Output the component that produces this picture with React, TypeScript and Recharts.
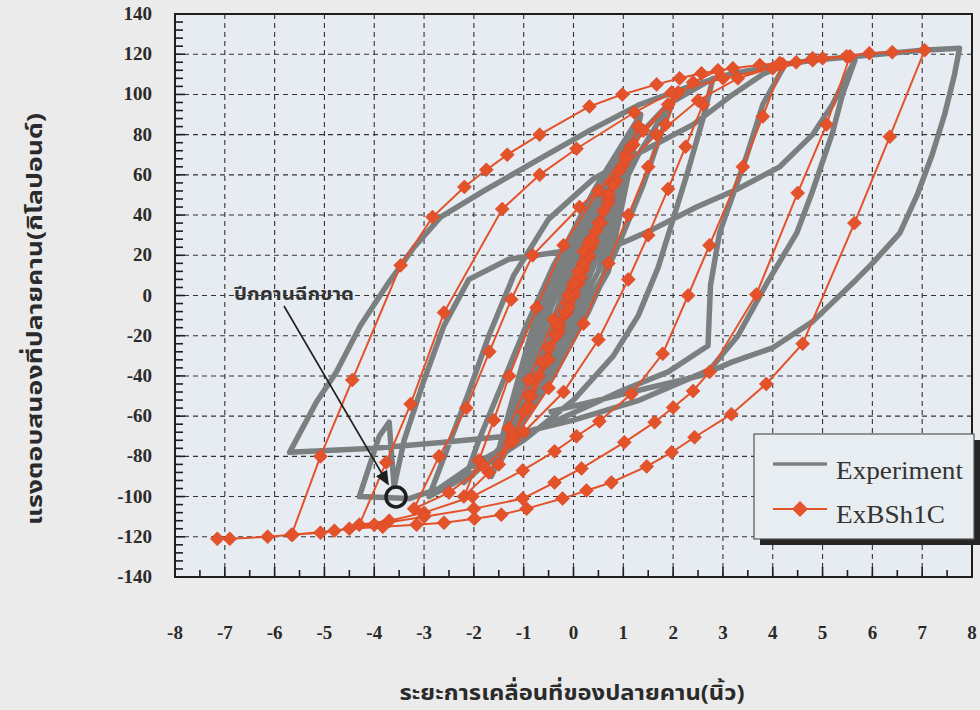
import { LineChart, Line, XAxis, YAxis, CartesianGrid, ReferenceArea } from 'recharts'

// plot box in page pixels
const PLOT = { left: 175, right: 972, top: 14, bottom: 577 }

const xLabels = [-8, -7, -6, -5, -4, -3, -2, -1, 0, 1, 2, 3, 4, 5, 6, 7, 8]
const yLabels = [-140, -120, -100, -80, -60, -40, -20, 0, 20, 40, 60, 80, 100, 120, 140]
const xGrid = [-7, -6, -5, -4, -3, -2, -1, 0, 1, 2, 3, 4, 5, 6, 7]
const yGrid = [-120, -100, -80, -60, -40, -20, 0, 20, 40, 60, 80, 100, 120]
const xMinor = Array.from({ length: 33 }, (_, i) => -8 + i * 0.5)
const yMinor = Array.from({ length: 71 }, (_, i) => -140 + i * 4)

// Experiment (measured) — [displacement in, force kip]
const expCore = [
  [0, 0], [0.2, 18], [0.35, 28], [0.1, 12], [-0.2, -10], [-0.4, -28], [-0.1, -12],
  [0.25, 16], [0.55, 40], [0.2, 22], [-0.3, -10], [-0.65, -42], [-0.2, -20],
  [0.3, 12], [0.75, 52], [0.25, 30], [-0.35, -8], [-0.9, -55], [-0.3, -26],
  [0.4, 14], [0.95, 64], [0.3, 36], [-0.45, -6], [-1.1, -66], [-0.4, -32],
  [0.5, 12], [1.1, 74], [0.35, 42], [-0.5, -2], [-1.3, -76], [-0.5, -38],
  [0.6, 10], [1.25, 84], [0.4, 48], [-0.55, 2], [-1.5, -84], [-0.55, -42],
  [0.7, 12], [1.35, 90], [0.45, 54], [-0.6, 4], [-1.65, -90],
]
const expC6 = [
  [-1.1, -60], [-0.5, -28], [0.2, 10], [0.8, 45], [1.3, 70], [1.7, 86], [2.0, 97],
  [1.75, 80], [1.4, 55], [0.9, 25], [0.3, -8], [-0.4, -40], [-1.1, -65], [-1.7, -82], [-2.2, -93],
]
const expC7 = [
  [-1.9, -72], [-1.5, -48], [-1.0, -18], [-0.4, 15], [0.3, 45], [1.1, 74], [1.9, 95], [2.8, 108],
  [2.6, 88], [2.3, 62], [2.0, 38], [1.7, 14], [1.3, -10], [0.8, -30], [0, -52], [-1.0, -72], [-2.0, -88], [-2.9, -100],
]
const expC8 = [
  [-2.5, -74], [-2.1, -48], [-1.7, -20], [-1.2, 10], [-0.5, 38], [0.4, 58], [1.4, 72], [2.4, 85], [3.2, 100], [3.8, 110], [4.25, 115],
  [3.8, 95], [3.47, 69], [2.93, 31], [2.75, 5], [2.7, -25], [1.9, -38], [1.0, -47], [-0.68, -66], [-2.0, -84], [-2.7, -96], [-3.3, -101], [-4.3, -100],
]
const expC9 = [
  [-4.1, -85], [-3.9, -70], [-3.7, -63], [-3.65, -80], [-3.6, -95], [-3.4, -72], [-3.0, -42], [-2.6, -15], [-2.1, 8], [-1.3, 18],
  [-0.2, 22], [0.78, 24], [1.6, 33], [2.47, 44], [3.3, 53], [4.14, 64], [4.8, 80], [5.2, 95], [5.5, 110], [5.65, 117],
  [5.4, 100], [5.2, 81], [4.8, 52], [4.48, 31], [3.88, 6], [3.3, -20], [2.73, -37], [1.33, -52], [0, -62], [-1.35, -70],
  [-2.6, -73], [-4.0, -76], [-5.7, -78],
]
const expC10 = [
  [-5.16, -53], [-4.76, -38], [-4.28, -15], [-3.75, 5], [-3.2, 24], [-2.67, 39], [-1.8, 52], [-0.68, 68], [0.32, 82],
  [1.33, 95], [2.33, 104], [3.13, 110], [4.0, 114], [4.8, 117], [6.14, 120], [7.0, 122], [7.75, 123],
  [7.65, 110], [7.45, 90], [7.2, 70], [6.9, 50], [6.55, 31], [6.0, 16], [5.68, 8], [4.8, -13], [4.0, -26],
  [3.19, -33], [2.53, -40], [1.5, -46], [0.5, -52], [-0.5, -58],
]

// ExBSh1C (model)
const modelCore = [
  [0, 0], [0.1, 6], [0.2, 13], [0.3, 19], [0.15, 9], [0, 0], [-0.15, -9], [-0.3, -18], [-0.15, -8],
  [0, 2], [0.2, 15], [0.4, 27], [0.55, 36], [0.35, 24], [0.1, 8], [-0.15, -8], [-0.35, -20], [-0.55, -32], [-0.35, -19],
  [-0.1, -4], [0.2, 16], [0.45, 32], [0.7, 48], [0.85, 57], [0.6, 42], [0.3, 24], [0, 5], [-0.3, -16], [-0.6, -34],
  [-0.85, -50], [-0.6, -33], [-0.3, -14], [0, 6], [0.35, 28], [0.7, 50], [1.0, 65], [1.15, 74], [0.85, 57], [0.5, 36],
  [0.1, 12], [-0.3, -14], [-0.7, -40], [-1.0, -58], [-1.2, -70], [-0.9, -50], [-0.5, -26], [-0.1, 0], [0.3, 26],
  [0.7, 50], [1.05, 70], [1.3, 84],
]
const modelC5 = [
  [1.05, 68], [0.7, 46], [0.3, 20], [-0.1, -6], [-0.5, -32], [-0.9, -55], [-1.25, -73], [-1.5, -84],
]
const modelC6 = [
  [-1.3, -66], [-0.9, -42], [-0.4, -12], [0.2, 22], [0.8, 55], [1.4, 82], [2.1, 101],
  [1.85, 85], [1.5, 64], [1.1, 40], [0.7, 16], [0.2, -14], [-0.5, -46], [-1.2, -72], [-1.7, -88], [-2.2, -100],
]
const modelC7 = [
  [-1.9, -82], [-1.6, -62], [-1.29, -40], [-0.74, -6], [-0.2, 25], [0.5, 52], [1.2, 75], [1.9, 95], [2.4, 106], [2.9, 112],
  [2.6, 95], [2.25, 74], [1.9, 53], [1.5, 30], [1.1, 8], [0.5, -22], [-0.2, -48], [-1.0, -68], [-1.8, -85], [-2.5, -98], [-3.2, -106],
]
const modelC8 = [
  [-2.7, -80], [-2.15, -56], [-1.69, -28], [-1.25, -2], [-0.82, 20], [0.12, 44], [0.92, 62], [1.67, 80], [2.5, 97], [3.3, 108], [4.2, 115],
  [3.8, 89], [3.4, 64], [2.73, 25], [2.3, 0], [1.79, -29], [1.16, -49], [0.52, -62.5], [0.06, -70], [-0.38, -77.5],
  [-1.02, -87], [-2.03, -100], [-3.0, -108], [-3.7, -112], [-4.3, -114],
]
const modelC9 = [
  [-3.76, -83], [-3.27, -54], [-2.6, -8.5], [-1.43, 43], [-0.68, 60], [0.06, 73], [1.22, 91], [1.97, 101], [3.0, 108],
  [4.0, 113], [4.8, 117], [5.55, 119],
  [5.08, 85], [4.5, 51], [3.67, 0.5], [2.73, -38], [2.4, -47.5], [2.0, -55.7], [1.63, -63], [1.02, -73], [0.16, -86],
  [-0.38, -93], [-1.02, -101], [-2.0, -106], [-3.0, -110], [-4.0, -114], [-4.8, -117], [-5.66, -119],
]
const modelC10 = [
  [-5.08, -80], [-4.44, -42], [-3.47, 15], [-2.83, 39], [-2.19, 54], [-1.75, 62.5], [-1.33, 70], [-0.68, 80], [0.32, 94],
  [0.98, 100], [1.67, 105], [2.13, 108], [2.57, 110.5], [3.2, 113], [3.74, 114.6], [4.14, 115.6], [4.47, 116], [4.8, 118],
  [5.0, 118], [5.48, 119], [5.94, 120.5], [6.4, 121], [7.05, 122],
  [6.35, 79], [5.64, 36], [4.6, -24], [3.87, -44], [3.17, -59], [2.43, -70.5], [1.97, -78], [1.47, -85], [0.76, -93],
  [0.26, -97], [-0.22, -101], [-0.94, -106], [-1.45, -109], [-1.99, -111], [-2.6, -113], [-3.15, -114], [-3.83, -115],
  [-4.5, -116], [-5.08, -118], [-5.64, -119], [-6.14, -120], [-6.9, -121], [-7.15, -121],
]

const toPoints = (rows: number[][]) => rows.map(([x, y]) => ({ x, y }))
const experiment = toPoints([...expCore, ...expC6, ...expC7, ...expC8, ...expC9, ...expC10])
const model = toPoints([...modelCore, ...modelC5, ...modelC6, ...modelC7, ...modelC8, ...modelC9, ...modelC10])

const GRAY = '#7c7f7f'
const ORANGE = '#e4522a'
const INK = '#1e1e1e'
const serif = '"Liberation Serif", "Times New Roman", serif'
const thai = '"Noto Sans Thai", "Loma", "Garuda", "Tlwg Typo", "Noto Sans", "DejaVu Sans", sans-serif'

const AXIS_W = 60
const AXIS_H = 60

function XTick({ x, payload }: any) {
  const v = payload.value
  const major = xLabels.includes(v)
  return (
    <g>
      <line x1={x} x2={x} y1={PLOT.bottom} y2={PLOT.bottom - (major ? 10 : 7)} stroke={INK} strokeWidth={1.6} />
      {major && (
        <text x={x} y={639} textAnchor="middle" fontFamily={serif} fontWeight="bold" fontSize={19} fill="#2a2a2a">
          {v}
        </text>
      )}
    </g>
  )
}

function YTick({ y, payload }: any) {
  const v = payload.value
  const major = yLabels.includes(v)
  return (
    <g>
      <line x1={PLOT.left} x2={PLOT.left + (major ? 10 : 8)} y1={y} y2={y} stroke={INK} strokeWidth={1.6} />
      {major && (
        <text x={152} y={y + 6} textAnchor="end" fontFamily={serif} fontWeight="bold" fontSize={19} fill="#2a2a2a">
          {v}
        </text>
      )}
    </g>
  )
}

function Diamond(props: any) {
  const { cx, cy, index } = props
  if (cx == null || cy == null) return <g key={`d-${index}`} />
  const r = 7
  return (
    <path
      key={`d-${index}`}
      d={`M${cx},${cy - r}L${cx + r},${cy}L${cx},${cy + r}L${cx - r},${cy}Z`}
      fill={ORANGE}
      stroke="#d8452a"
      strokeWidth={0.6}
    />
  )
}

export default function App() {
  return (
    <div style={{ position: 'absolute', left: 0, top: 0, width: 980, height: 710, background: '#ebebeb' }}>
      <LineChart
        width={980}
        height={710}
        margin={{
          top: PLOT.top,
          right: 980 - PLOT.right,
          bottom: 710 - PLOT.bottom - AXIS_H,
          left: PLOT.left - AXIS_W,
        }}
      >
        <CartesianGrid
          fill="#e7ecf2"
          stroke="#333"
          strokeWidth={1.1}
          strokeDasharray="5 4"
          verticalValues={xGrid}
          horizontalValues={yGrid}
        />
        <XAxis
          type="number"
          dataKey="x"
          domain={[-8, 8]}
          ticks={xMinor}
          interval={0}
          height={AXIS_H}
          tickLine={false}
          axisLine={{ stroke: INK, strokeWidth: 2 }}
          tick={(p: any) => <XTick key={`xt-${p.index}`} {...p} />}
        />
        <YAxis
          type="number"
          dataKey="y"
          domain={[-140, 140]}
          ticks={yMinor}
          interval={0}
          width={AXIS_W}
          tickLine={false}
          axisLine={{ stroke: INK, strokeWidth: 2 }}
          tick={(p: any) => <YTick key={`yt-${p.index}`} {...p} />}
        />
        <Line
          data={experiment}
          dataKey="y"
          type="linear"
          stroke={GRAY}
          strokeWidth={5.5}
          strokeLinejoin="round"
          dot={false}
          isAnimationActive={false}
        />
        <Line
          data={model}
          dataKey="y"
          type="linear"
          stroke={ORANGE}
          strokeWidth={2}
          dot={Diamond}
          activeDot={false}
          isAnimationActive={false}
        />
        <ReferenceArea x1={-8} x2={8} y1={-140} y2={140} fill="none" stroke={INK} strokeWidth={2} />
      </LineChart>

      <svg width={980} height={710} style={{ position: 'absolute', left: 0, top: 0, pointerEvents: 'none' }}>
        <defs>
          <marker id="arrowHead" markerWidth="10" markerHeight="10" refX="8" refY="4" orient="auto">
            <path d="M0,0 L9,4 L0,8 Z" fill={INK} />
          </marker>
        </defs>

        {/* annotation: flange tear */}
        <text x={294} y={300} textAnchor="middle" fontFamily={thai} fontWeight="bold" fontSize={18} fill="#333" textLength={120} lengthAdjust="spacingAndGlyphs">
          ปีกคานฉีกขาด
        </text>
        <line x1={284} y1={306} x2={388} y2={484} stroke={INK} strokeWidth={1.6} markerEnd="url(#arrowHead)" />
        <circle cx={396} cy={497} r={10} fill="none" stroke={INK} strokeWidth={3.5} />

        {/* axis titles */}
        <text x={572} y={700} textAnchor="middle" fontFamily={thai} fontWeight="bold" fontSize={22} fill="#2a2a2a" textLength={345} lengthAdjust="spacingAndGlyphs">
          ระยะการเคลื่อนที่ของปลายคาน(นิ้ว)
        </text>
        <text
          x={0}
          y={0}
          transform="translate(42,319) rotate(-90)"
          textAnchor="middle"
          fontFamily={thai}
          fontWeight="bold"
          fontSize={22}
          fill="#2a2a2a"
          textLength={412}
          lengthAdjust="spacingAndGlyphs"
        >
          แรงตอบสนองที่ปลายคาน(กิโลปอนด์)
        </text>

        {/* legend */}
        <rect x={760} y={440} width={220} height={105} fill="#262626" />
        <rect x={754} y={434} width={220} height={105} fill="#e8edf2" stroke="#555" strokeWidth={1.2} />
        <line x1={773} x2={827} y1={464} y2={464} stroke={GRAY} strokeWidth={3.5} />
        <text x={836} y={479} fontFamily={serif} fontSize={25} fill="#333" textLength={127} lengthAdjust="spacingAndGlyphs">
          Experiment
        </text>
        <line x1={773} x2={827} y1={509} y2={509} stroke={ORANGE} strokeWidth={2} />
        <path d="M800,501 L808,509 L800,517 L792,509 Z" fill={ORANGE} />
        <text x={836} y={523} fontFamily={serif} fontSize={25} fill="#333" textLength={109} lengthAdjust="spacingAndGlyphs">
          ExBSh1C
        </text>
      </svg>
    </div>
  )
}
